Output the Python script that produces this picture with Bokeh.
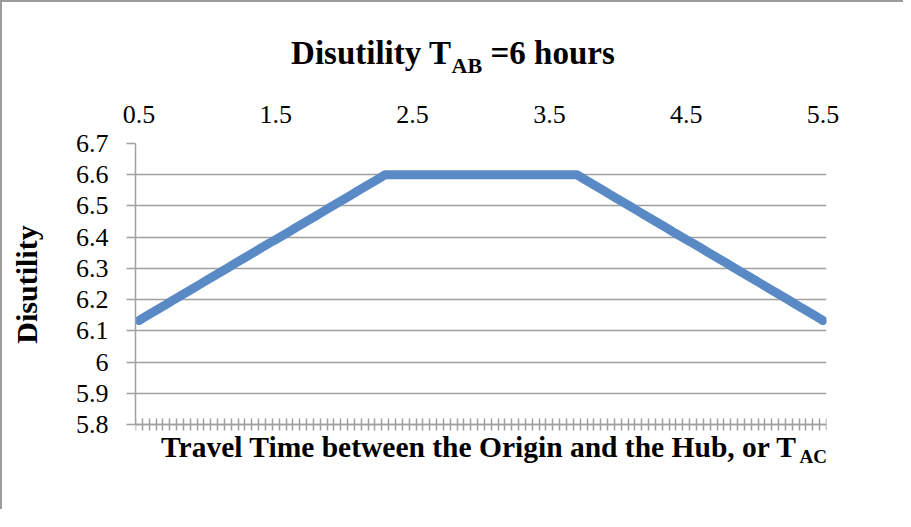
from bokeh.plotting import figure
from bokeh.layouts import column
from bokeh.models import (Range1d, LinearAxis, FixedTicker, NumeralTickFormatter,
                          CustomJSTickFormatter)
from bokeh.core.properties import value
from bokeh.embed import file_html
from bokeh.resources import INLINE

# ---- data ----
travel_time = [0.5, 0.55, 0.6, 0.65, 0.7, 0.75, 0.8, 0.85, 0.9, 0.95,
               1.0, 1.05, 1.1, 1.15, 1.2, 1.25, 1.3, 1.35, 1.4, 1.45,
               1.5, 1.55, 1.6, 1.65, 1.7, 1.75, 1.8, 1.85, 1.9, 1.95,
               2.0, 2.05, 2.1, 2.15, 2.2, 2.25, 2.3, 2.35, 2.4, 2.45,
               2.5, 2.55, 2.6, 2.65, 2.7, 2.75, 2.8, 2.85, 2.9, 2.95,
               3.0, 3.05, 3.1, 3.15, 3.2, 3.25, 3.3, 3.35, 3.4, 3.45,
               3.5, 3.55, 3.6, 3.65, 3.7, 3.75, 3.8, 3.85, 3.9, 3.95,
               4.0, 4.05, 4.1, 4.15, 4.2, 4.25, 4.3, 4.35, 4.4, 4.45,
               4.5, 4.55, 4.6, 4.65, 4.7, 4.75, 4.8, 4.85, 4.9, 4.95,
               5.0, 5.05, 5.1, 5.15, 5.2, 5.25, 5.3, 5.35, 5.4, 5.45,
               5.5]

disutility = [6.133, 6.146, 6.159, 6.172, 6.185, 6.198, 6.211, 6.224, 6.237, 6.250,
              6.263, 6.276, 6.289, 6.302, 6.315, 6.328, 6.341, 6.354, 6.367, 6.380,
              6.392, 6.405, 6.418, 6.431, 6.444, 6.457, 6.470, 6.483, 6.496, 6.509,
              6.522, 6.535, 6.548, 6.561, 6.574, 6.587, 6.600, 6.600, 6.600, 6.600,
              6.600, 6.600, 6.600, 6.600, 6.600, 6.600, 6.600, 6.600, 6.600, 6.600,
              6.600, 6.600, 6.600, 6.600, 6.600, 6.600, 6.600, 6.600, 6.600, 6.600,
              6.600, 6.600, 6.600, 6.600, 6.600, 6.587, 6.574, 6.561, 6.548, 6.535,
              6.522, 6.509, 6.496, 6.483, 6.470, 6.457, 6.444, 6.431, 6.418, 6.405,
              6.392, 6.380, 6.367, 6.354, 6.341, 6.328, 6.315, 6.302, 6.289, 6.276,
              6.263, 6.250, 6.237, 6.224, 6.211, 6.198, 6.185, 6.172, 6.159, 6.146,
              6.133]

x_tick_labels = [0.5, 1.5, 2.5, 3.5, 4.5, 5.5]
y_ticks = [5.8, 5.9, 6.0, 6.1, 6.2, 6.3, 6.4, 6.5, 6.6, 6.7]

title_main = "Disutility T"
title_sub = "AB"
title_rest = "=6 hours"
xlabel_main = "Travel Time between the Origin and the Hub, or T"
xlabel_sub = "AC"
ylabel = "Disutility"

# ---- styling / layout constants ----
FONT = "Liberation Serif"
GRAY = "#a0a0a0"
BLUE = "#5a8ac6"
W = 901
BL, BR = 133, 77           # left / right borders shared by both panels
FRAME_W = W - BL - BR      # 691 px
PLOT_H = 281               # px between the 6.7 and 5.8 grid lines
EXTRA = 46                 # frame space below the x axis that holds the x title
TOP_B, BOT_B = 61, 39

half = (travel_time[1] - travel_time[0]) / 2
edges = [t - half for t in travel_time] + [travel_time[-1] + half]
y_per_px = (y_ticks[-1] - y_ticks[0]) / PLOT_H
x_per_px = (edges[-1] - edges[0]) / FRAME_W
y_lo = y_ticks[0] - EXTRA * y_per_px


def px_x(dx):   # pixels right of the frame's left edge -> data x
    return edges[0] + dx * x_per_px


def px_y(dy):   # pixels below the 5.8 axis line -> data y
    return y_ticks[0] - dy * y_per_px


# ---- title panel ----
tp = figure(width=W, height=80, output_backend="svg", toolbar_location=None,
            x_range=Range1d(BL, W - BR), y_range=Range1d(0, 80),
            min_border_left=BL, min_border_right=BR, min_border_top=0,
            min_border_bottom=0, x_axis_type=None, y_axis_type=None, title=None)
tp.outline_line_color = None
tp.xgrid.visible = False
tp.ygrid.visible = False


def put(f, x, y, txt, size, align="left"):
    f.text(x=[x], y=[y], text=[txt], text_font=value(FONT), text_font_size=size,
           text_font_style="bold", text_align=align, text_baseline="middle",
           text_color="black")


put(tp, 449, 30, title_main, "33px", "right")
put(tp, 449, 17, title_sub, "22px")
put(tp, 488, 30, title_rest, "33px")

# ---- main chart ----
p = figure(width=W, height=TOP_B + PLOT_H + EXTRA + BOT_B, output_backend="svg",
           toolbar_location=None,
           x_range=Range1d(edges[0], edges[-1]), y_range=Range1d(y_lo, y_ticks[-1]),
           min_border_left=BL, min_border_right=BR, min_border_top=TOP_B,
           min_border_bottom=BOT_B, title=None)
p.outline_line_color = None

xa = p.xaxis[0]
xa.fixed_location = y_ticks[0]
xa.ticker = FixedTicker(ticks=edges)
xa.formatter = CustomJSTickFormatter(code="return ''")
xa.major_tick_in = 6
xa.major_tick_out = 6
xa.minor_tick_line_color = None
xa.axis_line_color = GRAY
xa.axis_line_width = 1.5
xa.major_tick_line_color = GRAY
xa.major_tick_line_width = 1.5
xa.major_label_text_font_size = "1px"
xa.major_label_standoff = 0

top = LinearAxis(ticker=FixedTicker(ticks=x_tick_labels),
                 major_tick_line_color=None, minor_tick_line_color=None,
                 axis_line_color=None, major_label_standoff=15,
                 major_label_text_font=FONT, major_label_text_font_size="26px",
                 major_label_text_color="black")
p.add_layout(top, "above")

ya = p.yaxis[0]
ya.bounds = (y_ticks[0], y_ticks[-1])
ya.ticker = FixedTicker(ticks=y_ticks)
ya.formatter = NumeralTickFormatter(format="0.[0]")
ya.major_tick_in = 0
ya.major_tick_out = 9
ya.minor_tick_line_color = None
ya.axis_line_color = GRAY
ya.axis_line_width = 1.5
ya.major_tick_line_color = GRAY
ya.major_tick_line_width = 1.5
ya.major_label_standoff = 18
ya.major_label_text_font = FONT
ya.major_label_text_font_size = "26px"
ya.major_label_text_color = "black"
# leading no-break spaces lift the centred label to the middle of the 5.8-6.7 span
ya.axis_label = "\u00a0" * 6 + ylabel
ya.axis_label_text_font = FONT
ya.axis_label_text_font_size = "30px"
ya.axis_label_text_font_style = "bold"
ya.axis_label_text_color = "black"
ya.axis_label_standoff = 30

p.xgrid.grid_line_color = None
p.ygrid.ticker = FixedTicker(ticks=y_ticks)
p.ygrid.grid_line_color = GRAY
p.ygrid.grid_line_width = 1.5

p.line(travel_time, disutility, line_width=9, line_color=BLUE,
       line_cap="round", line_join="round")

# x-axis title (inside the frame, below the axis line)
p.text(x=[px_x(662)], y=[px_y(22)], text=[xlabel_main], text_font=value(FONT),
       text_font_size="29.5px", text_font_style="bold", text_align="right",
       text_baseline="middle", text_color="black")
p.text(x=[px_x(664)], y=[px_y(32)], text=[xlabel_sub], text_font=value(FONT),
       text_font_size="19px", text_font_style="bold", text_align="left",
       text_baseline="middle", text_color="black")

layout = column(tp, p,
                styles={"border-top": "2px solid #9c9c9c", "border-left": "2px solid #9c9c9c"})

open("out.html", "w").write(file_html(layout, INLINE))
